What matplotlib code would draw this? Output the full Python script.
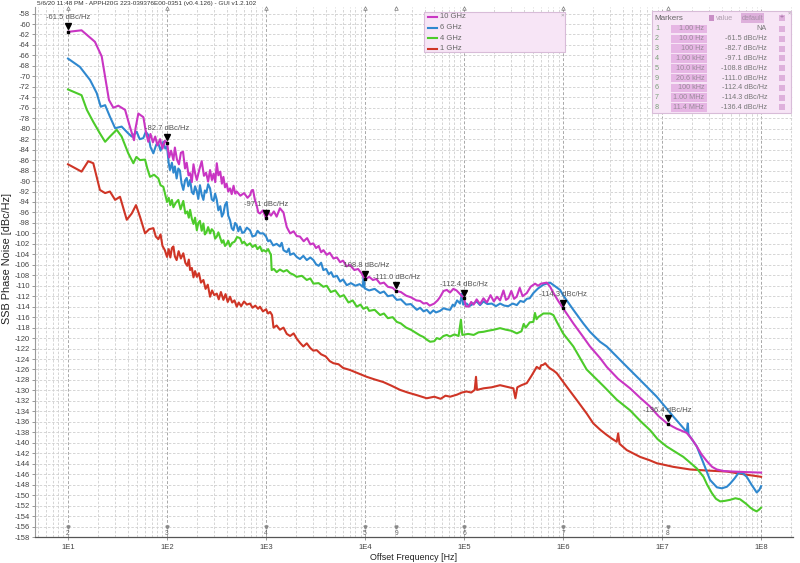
import numpy as np
import matplotlib.pyplot as plt
from matplotlib.patches import Rectangle
from matplotlib.lines import Line2D
from matplotlib.ticker import FixedLocator, NullFormatter, LogLocator
import matplotlib.transforms as mtransforms

plt.rcParams['font.family'] = ['Liberation Sans', 'DejaVu Sans']

# ---- data (offset frequency [Hz], SSB phase noise [dBc/Hz]) ----
pn_10ghz = np.array([
    (10, -61.5), (13.7, -61.2), (18.7, -63.4), (21.9, -66.2), (23.7, -70.1), (25.9, -74.5),
    (28.7, -76.0), (32.2, -75.6), (37.7, -76.4), (42, -79.5), (46.4, -82.2), (48, -80.0),
    (51.3, -77.1), (54, -77.4), (57.7, -77.8), (61, -80.5), (64.7, -82.5), (68, -81.0),
    (72, -82.6), (76, -81.5), (80, -83.2), (85, -82.0), (90, -83.8), (95, -82.3), (100, -82.7),
    (105, -85.5), (110, -84.2), (116, -86.0), (120, -83.6), (126, -85.9), (132, -86.8),
    (138, -84.6), (145, -84.4), (152, -87.6), (158, -86.5), (165, -88.9), (171, -88.5),
    (178, -90.2), (185, -86.8), (192, -88.5), (200, -89.8), (212, -87.8), (224, -86.2),
    (236, -89.0), (248, -88.4), (260, -90.1), (272, -87.9), (284, -89.8), (295, -88.6),
    (307, -90.2), (318, -86.6), (330, -88.9), (345, -88.2), (358, -90.5), (371, -89.2),
    (385, -91.2), (400, -90.5), (415, -92.0), (433, -91.4), (450, -92.5), (470, -90.9),
    (488, -92.4), (506, -92.0), (550, -92.8), (600, -92.3), (650, -93.2), (689, -92.7),
    (715, -91.8), (739, -91.7), (770, -93.5), (800, -94.5), (835, -96.0), (869, -96.2),
    (930, -95.6), (1000, -97.1), (1060, -96.0), (1120, -96.6), (1200, -95.8), (1280, -96.8),
    (1380, -95.2), (1500, -96.0), (1560, -97.5), (1620, -98.8), (1750, -100.0), (1900, -99.6),
    (2040, -100.5), (2200, -100.6), (2400, -101.5), (2600, -100.9), (2800, -102.1),
    (3000, -101.9), (3200, -102.8), (3400, -102.4), (3600, -103.6), (3800, -103.2),
    (4100, -104.1), (4400, -103.7), (4800, -104.8), (5200, -104.6), (5600, -105.5),
    (6000, -105.2), (6500, -106.3), (7000, -106.0), (7800, -107.0), (8500, -106.8),
    (9200, -107.6), (10000, -108.8), (11000, -108.3), (12000, -108.9), (13000, -108.7),
    (14200, -109.6), (15500, -109.4), (17000, -110.2), (19000, -110.4), (20600, -111.0),
    (23000, -111.2), (26000, -111.9), (29000, -112.2), (33000, -112.8), (36000, -112.9),
    (39000, -113.4), (42000, -113.3), (45000, -113.8), (50000, -113.4), (54000, -112.8),
    (57000, -112.2), (62000, -111.0), (67000, -110.8), (72000, -111.3), (78000, -110.6),
    (84000, -110.9), (90000, -111.5), (100000, -112.4), (104000, -113.9), (111000, -114.0),
    (118000, -113.1), (125000, -113.6), (134000, -112.6), (145000, -113.5), (157000, -112.4),
    (170000, -113.2), (185000, -111.8), (200000, -113.0), (215000, -112.1), (231000, -112.8),
    (250000, -110.9), (265000, -112.7), (280000, -112.4), (300000, -111.0), (320000, -112.5),
    (340000, -112.1), (365000, -110.4), (390000, -112.0), (430000, -111.4), (470000, -110.2),
    (521000, -109.6), (560000, -110.0), (600000, -109.6), (684000, -109.4), (740000, -110.2),
    (800000, -111.4), (900000, -113.0), (1.0e6, -114.3), (1.27e6, -117.2), (1.6e6, -119.8),
    (1.87e6, -121.6), (2.36e6, -123.8), (2.76e6, -125.5), (3.6e6, -127.8), (4.75e6, -129.6),
    (6.0e6, -131.4), (7.57e6, -133.1), (9.2e6, -134.9), (11.4e6, -136.4), (14.0e6, -137.3),
    (17.7e6, -138.1), (20.0e6, -139.3), (22.4e6, -140.7), (25.0e6, -142.2), (28.3e6, -143.5),
    (32.0e6, -144.6), (35.7e6, -145.1), (42e6, -145.4), (52.5e6, -145.5), (70e6, -145.6),
    (100e6, -145.7),
])

pn_6ghz = np.array([
    (10, -66.6), (13.2, -68.2), (16.7, -70.7), (19.5, -73.2), (21.4, -75.8), (23.7, -75.5),
    (26.5, -77.7), (29.9, -79.9), (34.8, -79.6), (40.6, -80.9), (44, -81.5), (49.4, -80.6),
    (53, -82.0), (57.6, -81.8), (61, -80.6), (64.7, -81.2), (68, -83.5), (72.8, -84.7),
    (78, -83.0), (81.7, -82.8), (86, -84.2), (91.8, -82.5), (96, -83.8), (100, -83.4),
    (104, -86.6), (107, -87.9), (112, -86.5), (116, -88.4), (120, -87.2), (125, -89.5),
    (130, -87.6), (135, -88.0), (140, -90.4), (146, -91.7), (152, -89.9), (158, -89.4),
    (164, -91.0), (171, -89.8), (178, -92.1), (185, -92.5), (192, -91.0), (200, -92.0),
    (207, -93.4), (215, -90.8), (224, -92.6), (233, -93.6), (241, -91.8), (250, -92.2),
    (260, -90.6), (272, -91.4), (283, -93.5), (295, -93.8), (306, -92.4), (318, -93.6),
    (330, -95.6), (345, -94.8), (358, -96.8), (371, -96.2), (385, -94.6), (401, -94.0),
    (415, -96.6), (433, -97.5), (450, -99.0), (468, -99.4), (487, -98.0), (506, -98.4),
    (525, -99.6), (546, -98.7), (575, -99.9), (600, -99.8), (640, -98.9), (689, -99.4),
    (730, -100.6), (780, -100.4), (820, -99.5), (869, -100.0), (940, -100.0), (1000, -100.6),
    (1050, -101.5), (1100, -101.3), (1180, -102.3), (1280, -102.0), (1380, -102.5),
    (1440, -101.8), (1500, -103.2), (1620, -103.6), (1700, -102.9), (1750, -104.1),
    (1900, -103.8), (2040, -104.5), (2200, -104.9), (2380, -104.3), (2580, -105.1),
    (2800, -104.6), (3010, -105.1), (3200, -105.9), (3400, -106.2), (3600, -105.6),
    (3790, -107.0), (4050, -106.8), (4300, -107.8), (4550, -107.4), (4790, -108.3),
    (5200, -108.1), (5600, -109.2), (6000, -108.8), (6530, -109.9), (7200, -109.5),
    (8000, -110.0), (8800, -109.7), (9500, -110.2), (9700, -107.6), (9900, -110.5),
    (11000, -110.9), (12500, -110.6), (14200, -111.4), (15500, -111.1), (17000, -112.0),
    (19000, -111.8), (20900, -112.7), (23000, -112.6), (26000, -113.6), (29000, -113.5),
    (33300, -114.6), (36000, -114.2), (39000, -114.9), (42000, -114.6), (45400, -115.3),
    (49000, -114.7), (52000, -115.1), (57300, -114.8), (62000, -114.3), (66900, -114.5),
    (72300, -114.6), (77000, -113.6), (80000, -113.9), (85000, -112.8), (91200, -113.4),
    (95000, -111.5), (98000, -113.6), (106000, -113.4), (113000, -113.9), (120000, -113.6),
    (134000, -113.0), (145000, -113.7), (157000, -113.0), (172000, -113.5), (190000, -113.4),
    (210000, -113.9), (231000, -113.4), (255000, -113.8), (280000, -113.9), (310000, -113.4),
    (341000, -113.7), (370000, -112.9), (400000, -113.1), (430000, -112.5), (460000, -112.4),
    (501000, -111.4), (560000, -110.5), (632000, -109.8), (739000, -109.4), (830000, -110.1),
    (933000, -110.8), (1.0e6, -111.8), (1.27e6, -114.6), (1.6e6, -117.2), (1.87e6, -118.8),
    (2.36e6, -120.7), (2.76e6, -121.6), (4.06e6, -124.8), (6.0e6, -128.0), (8.83e6, -131.2),
    (13.0e6, -135.0), (17.7e6, -137.9), (18.2e6, -136.3), (18.5e6, -138.4), (22.4e6, -140.7),
    (26.2e6, -143.9), (30.5e6, -147.1), (35.7e6, -148.5), (40.1e6, -148.7), (45.1e6, -148.4),
    (48.7e6, -147.8), (54e6, -146.8), (59.0e6, -145.8), (65e6, -145.8), (71.6e6, -146.5),
    (80e6, -148.0), (90.4e6, -149.5), (96e6, -149.0), (100e6, -148.3),
])

pn_4ghz = np.array([
    (10, -72.5), (13.7, -73.6), (15.5, -76.4), (18, -78.7), (21, -80.9), (23.7, -82.5),
    (26.5, -81.5), (31, -80.2), (34.8, -81.5), (40.6, -84.7), (45.7, -86.6), (49, -85.4),
    (53.3, -86.0), (60, -85.9), (63, -87.5), (67.3, -89.2), (74, -88.8), (81.7, -89.5),
    (86, -90.8), (91.8, -91.1), (96, -92.6), (100, -94.0), (104, -93.2), (108, -94.6),
    (112, -93.6), (116, -95.0), (122, -94.2), (130, -93.6), (137, -95.4), (146, -93.8),
    (153, -96.2), (160, -95.8), (166, -97.0), (171, -95.5), (178, -97.2), (185, -98.2),
    (192, -97.0), (200, -99.4), (207, -98.0), (215, -97.6), (224, -99.5), (233, -98.1),
    (241, -100.2), (250, -99.8), (260, -98.8), (272, -100.0), (283, -99.2), (295, -99.6),
    (306, -101.0), (318, -100.6), (330, -99.8), (345, -100.9), (358, -101.8), (371, -101.3),
    (385, -102.4), (401, -102.0), (415, -101.4), (433, -102.5), (455, -101.8), (480, -101.6),
    (510, -100.7), (546, -100.9), (575, -101.9), (600, -101.6), (640, -102.3), (689, -101.9),
    (730, -102.6), (780, -102.2), (820, -103.0), (869, -102.5), (910, -103.4), (950, -103.2),
    (1000, -103.5), (1050, -103.0), (1100, -103.8), (1120, -104.0), (1140, -107.0),
    (1200, -106.8), (1280, -107.4), (1380, -106.9), (1500, -107.3), (1620, -107.0),
    (1750, -107.6), (1900, -107.9), (2040, -108.3), (2300, -108.1), (2580, -108.9),
    (2800, -108.6), (3010, -109.6), (3400, -109.5), (3790, -110.2), (4100, -110.0),
    (4500, -111.2), (5000, -110.9), (5580, -112.1), (6100, -111.8), (6800, -113.2),
    (7500, -112.8), (8240, -114.0), (9000, -113.6), (9610, -114.4), (10500, -114.1),
    (11000, -114.8), (12500, -114.6), (14200, -115.6), (15500, -115.3), (17000, -116.2),
    (19000, -116.0), (20900, -116.9), (23000, -117.2), (26000, -118.0), (29000, -118.4),
    (33300, -119.1), (36000, -119.5), (39000, -119.8), (42000, -120.3), (45400, -120.7),
    (50000, -120.6), (53000, -120.0), (57000, -120.2), (62000, -119.6), (66900, -119.4),
    (72000, -119.7), (80000, -119.3), (88000, -119.6), (93000, -116.5), (96000, -119.4),
    (110000, -119.2), (125000, -119.4), (140000, -118.9), (157000, -118.8), (175000, -118.6),
    (200000, -118.4), (231000, -118.1), (265000, -118.4), (300000, -118.6), (341000, -119.1),
    (380000, -118.7), (400000, -117.3), (420000, -118.0), (460000, -117.0), (501000, -116.9),
    (520000, -115.2), (540000, -116.4), (560000, -116.0), (600000, -115.6), (632000, -115.3),
    (684000, -115.3), (739000, -115.3), (798000, -115.6), (870000, -117.0), (1.0e6, -119.1),
    (1.27e6, -121.6), (1.73e6, -126.0), (2.6e6, -129.3), (3.5e6, -131.8), (4.75e6, -133.8),
    (6e6, -135.8), (7.57e6, -137.6), (9e6, -139.3), (11.1e6, -140.7), (13.5e6, -141.7),
    (16.4e6, -142.7), (19.5e6, -143.9), (22.4e6, -144.9), (26.2e6, -146.5), (28.5e6, -148.0),
    (31.8e6, -149.6), (35e6, -150.7), (38.6e6, -151.2), (43e6, -151.1), (48.7e6, -150.9),
    (55e6, -150.6), (61.4e6, -150.8), (70e6, -151.6), (78e6, -152.4), (83.6e6, -152.8),
    (90e6, -153.1), (95e6, -152.8), (100e6, -152.4),
])

pn_1ghz = np.array([
    (10, -86.8), (13.7, -88.2), (16, -86.2), (18, -86.6), (21, -91.7), (23.7, -92.3),
    (26.5, -92.0), (29.9, -93.6), (33.5, -93.0), (39.2, -97.4), (44, -96.2), (48.6, -94.6),
    (53.3, -96.8), (60, -100.0), (66, -99.2), (72.8, -99.0), (77, -100.6), (81.7, -101.1),
    (86, -100.2), (90, -102.4), (95, -103.2), (100, -104.5), (104, -103.0), (108, -104.6),
    (112, -102.8), (116, -102.5), (120, -104.4), (125, -105.1), (131, -103.4), (138, -104.8),
    (146, -103.8), (153, -105.6), (160, -106.2), (166, -105.0), (171, -107.0), (178, -106.6),
    (185, -108.4), (192, -107.2), (200, -108.3), (210, -107.6), (220, -109.4), (233, -108.9),
    (245, -110.6), (258, -109.8), (272, -112.1), (285, -110.9), (300, -111.8), (318, -111.5),
    (333, -112.6), (350, -111.2), (371, -112.7), (390, -111.6), (410, -113.1), (433, -112.1),
    (455, -113.2), (480, -112.8), (506, -114.0), (530, -113.2), (560, -113.9), (600, -113.0),
    (640, -113.6), (689, -113.4), (730, -114.2), (780, -113.8), (830, -114.4), (869, -114.0),
    (930, -114.9), (1000, -114.5), (1050, -115.3), (1100, -115.0), (1150, -115.6),
    (1190, -118.0), (1280, -117.6), (1380, -118.4), (1500, -118.0), (1620, -119.2),
    (1750, -119.6), (1900, -119.1), (2040, -120.1), (2200, -120.9), (2380, -121.6),
    (2580, -121.0), (2800, -121.9), (3000, -122.4), (3250, -122.3), (3600, -123.1),
    (4000, -123.5), (4400, -124.4), (4790, -124.8), (5400, -125.0), (6000, -125.7),
    (7050, -126.1), (8200, -126.6), (9000, -126.9), (10400, -127.4), (12500, -127.9),
    (15300, -128.4), (18500, -129.1), (22600, -129.9), (27000, -130.4), (33300, -130.9),
    (42000, -131.5), (50000, -131.2), (58000, -131.6), (65000, -131.0), (72300, -131.2),
    (85000, -130.8), (95000, -130.4), (106000, -130.2), (118000, -130.4), (128000, -129.9),
    (132000, -127.4), (135000, -129.9), (157000, -129.6), (190000, -129.4), (231000, -129.0),
    (270000, -129.3), (315000, -129.6), (330000, -131.5), (345000, -129.4), (380000, -129.0),
    (430000, -128.6), (480000, -127.2), (542000, -125.5), (580000, -125.9), (600000, -125.2),
    (632000, -125.1), (660000, -124.8), (700000, -125.4), (739000, -125.8), (800000, -126.2),
    (863000, -126.7), (1.09e6, -129.3), (1.37e6, -131.8), (1.73e6, -134.4), (2.02e6, -136.3),
    (2.4e6, -137.6), (2.76e6, -138.5), (3.1e6, -139.2), (3.48e6, -139.8), (3.6e6, -138.2),
    (3.72e6, -140.2), (4.4e6, -141.4), (5.2e6, -142.1), (6e6, -142.7), (7.4e6, -143.3),
    (8.83e6, -143.9), (13e6, -144.6), (19.2e6, -145.1), (28.3e6, -145.3), (45.1e6, -145.5),
    (71.6e6, -146.1), (100e6, -146.5),
])

series = [pn_10ghz, pn_6ghz, pn_4ghz, pn_1ghz]
series_labels = ['10 GHz', '6 GHz', '4 GHz', '1 GHz']
series_colors = ['#c935c3', '#2f88cf', '#4ccb2a', '#cf3526']

# markers (placed on the 10 GHz trace)
marker_ids = ['1', '2', '3', '4', '5', '9', '6', '7', '8']
marker_freqs = [1.0, 10.0, 100.0, 1.0e3, 1.0e4, 2.06e4, 1.0e5, 1.0e6, 1.14e7]
marker_freq_text = ['1.00 Hz', '10.0 Hz', '100 Hz', '1.00 kHz', '10.0 kHz', '20.6 kHz',
                    '100 kHz', '1.00 MHz', '11.4 MHz']
marker_values = [None, -61.5, -82.7, -97.1, -108.8, -111.0, -112.4, -114.3, -136.4]

title_text = '5/6/20 11:48 PM - APPH20G 223-039376E00-0351 (v0.4.126) - GUI v1.2.102'
y_ticks = np.arange(-158, -57, 2)
x_decades = [1e1, 1e2, 1e3, 1e4, 1e5, 1e6, 1e7, 1e8]
x_tick_labels = ['1E1', '1E2', '1E3', '1E4', '1E5', '1E6', '1E7', '1E8']

# ---- figure ----
W, H = 800, 563
fig = plt.figure(figsize=(W / 100, H / 100), dpi=100)
fig.patch.set_facecolor('white')


def fx(px):
    return px / W


def fy(py):
    return 1 - py / H


ax = fig.add_axes([fx(35), fy(537), fx(793) - fx(35), fy(7) - fy(537)])
ax.set_xscale('log')
ax.set_xlim(4.64, 2.1e8)
ax.set_ylim(-158, -56.75)

ax.xaxis.set_major_locator(FixedLocator(x_decades))
ax.set_xticklabels(x_tick_labels)
ax.xaxis.set_minor_locator(LogLocator(base=10, subs=np.arange(2, 10)))
ax.xaxis.set_minor_formatter(NullFormatter())
ax.set_yticks(y_ticks)
ax.set_yticklabels([str(v) for v in y_ticks])

ax.grid(True, which='major', axis='x', color='#a8a8a8', linestyle=(0, (3, 2)), linewidth=0.7)
ax.grid(True, which='minor', axis='x', color='#cfcfcf', linestyle=(0, (3, 2)), linewidth=0.6)
ax.grid(True, which='major', axis='y', color='#cfcfcf', linestyle=(0, (3, 2)), linewidth=0.6)
ax.set_axisbelow(True)

for s in ['top', 'right']:
    ax.spines[s].set_visible(False)
ax.spines['left'].set_color('#9a9a9a')
ax.spines['bottom'].set_color('#555555')
ax.spines['left'].set_linewidth(0.8)
ax.spines['bottom'].set_linewidth(0.9)
ax.tick_params(axis='both', which='major', labelsize=5.5, labelcolor='#444444',
               color='#888888', length=2, width=0.6, pad=1.5)
ax.tick_params(axis='x', which='minor', length=0)
ax.tick_params(axis='x', which='major', pad=3)

ax.set_xlabel('Offset Frequency [Hz]', fontsize=6.4, color='#222222', labelpad=1.5)
ax.set_ylabel('SSB Phase Noise [dBc/Hz]', fontsize=7.8, color='#222222')
ax.yaxis.set_label_coords(-0.031, 0.525)

# traces (drawn bottom to top)
for data, color in reversed(list(zip(series, series_colors))):
    ax.plot(data[:, 0], data[:, 1], color=color, linewidth=1.5, solid_joinstyle='round')

# marker annotations on the 10 GHz trace
tri_offset = mtransforms.offset_copy(ax.transData, fig=fig, x=0, y=4, units='points')
for mf, mv in zip(marker_freqs, marker_values):
    if mv is None:
        continue
    ax.plot([mf], [mv], marker='s', ms=1.8, color='black', linestyle='none')
    ax.plot([mf], [mv], marker='v', ms=4.5, color='black', linestyle='none', transform=tri_offset)
    ax.annotate(f'{mv:.1f} dBc/Hz', (mf, mv), xytext=(0, 10), textcoords='offset points',
                ha='center', va='center', fontsize=5.5, color='#555555')

# marker ticks along top and bottom edges
for mid, mf, mv in zip(marker_ids, marker_freqs, marker_values):
    if mv is None:
        continue
    ax.plot([mf], [-56.95], marker='^', ms=2.6, mfc='none', mec='#777777', mew=0.5,
            linestyle='none', clip_on=False)
    ax.plot([mf], [-156.1], marker='v', ms=2.2, color='#888888', linestyle='none')
    ax.text(mf, -157.25, mid, ha='center', va='center', fontsize=4.8, color='#666666')

# title
fig.text(fx(37), fy(3.5), title_text, fontsize=4.6, color='#333333', ha='left', va='center')

# ---- legend box ----
fig.patches.append(Rectangle((fx(424), fy(52)), fx(565) - fx(424), fy(12) - fy(52),
                             transform=fig.transFigure, facecolor='#f7e5f6',
                             edgecolor='#d8bcd8', linewidth=0.8))
fig.text(fx(562), fy(15), '×', fontsize=4.5, color='#999999', ha='center', va='center')
for i, (lab, color) in enumerate(zip(series_labels, series_colors)):
    yy = 17 + i * 10.5
    fig.add_artist(Line2D([fx(428), fx(436.5)], [fy(yy), fy(yy)], color=color, linewidth=1.5,
                          transform=fig.transFigure))
    fig.text(fx(440), fy(yy), lab, fontsize=5.5, color='#666666', ha='left', va='center')

# ---- markers table ----
fig.patches.append(Rectangle((fx(652), fy(113)), fx(791) - fx(652), fy(11) - fy(113),
                             transform=fig.transFigure, facecolor='#f7e5f6',
                             edgecolor='#d8bcd8', linewidth=0.8))
fig.text(fx(654), fy(18), 'Markers', fontsize=5.8, color='#666666', ha='left', va='center')
fig.patches.append(Rectangle((fx(709), fy(21)), fx(714) - fx(709), fy(15) - fy(21),
                             transform=fig.transFigure, facecolor='#c98fc6', edgecolor='none'))
fig.text(fx(716), fy(18), 'value', fontsize=5.2, color='#b0a0b0', ha='left', va='center')
fig.patches.append(Rectangle((fx(741), fy(23)), fx(764) - fx(741), fy(13) - fy(23),
                             transform=fig.transFigure, facecolor='#deb0dc', edgecolor='none'))
fig.text(fx(752.5), fy(18), 'default', fontsize=5.2, color='#a890a8', ha='center', va='center')
fig.patches.append(Rectangle((fx(779), fy(21)), fx(785) - fx(779), fy(15) - fy(21),
                             transform=fig.transFigure, facecolor='#deb0dc', edgecolor='none'))
fig.text(fx(782), fy(18), '+', fontsize=5, color='#996699', ha='center', va='center')
fig.text(fx(789), fy(13), '×', fontsize=4, color='#999999', ha='center', va='center')

for i, (mid, ftxt, mv) in enumerate(zip(marker_ids, marker_freq_text, marker_values)):
    yy = 29 + i * 9.8
    fig.text(fx(655), fy(yy), mid, fontsize=5.2, color='#7aa07a', ha='left', va='center')
    fig.patches.append(Rectangle((fx(671), fy(yy + 4.3)), fx(707) - fx(671), 8.6 / H,
                                 transform=fig.transFigure, facecolor='#e6b6e4', edgecolor='none'))
    fig.text(fx(704), fy(yy), ftxt, fontsize=5.2, color='#9a8a9a', ha='right', va='center')
    vtxt = 'NA' if mv is None else f'{mv:.1f} dBc/Hz'
    fig.text(fx(767), fy(yy), vtxt, fontsize=5.2, color='#777777', ha='right', va='center')
    fig.patches.append(Rectangle((fx(779), fy(yy + 3)), fx(785) - fx(779), 6 / H,
                                 transform=fig.transFigure, facecolor='#deb0dc', edgecolor='none'))

fig.savefig('out.png', dpi=100, facecolor='white')
